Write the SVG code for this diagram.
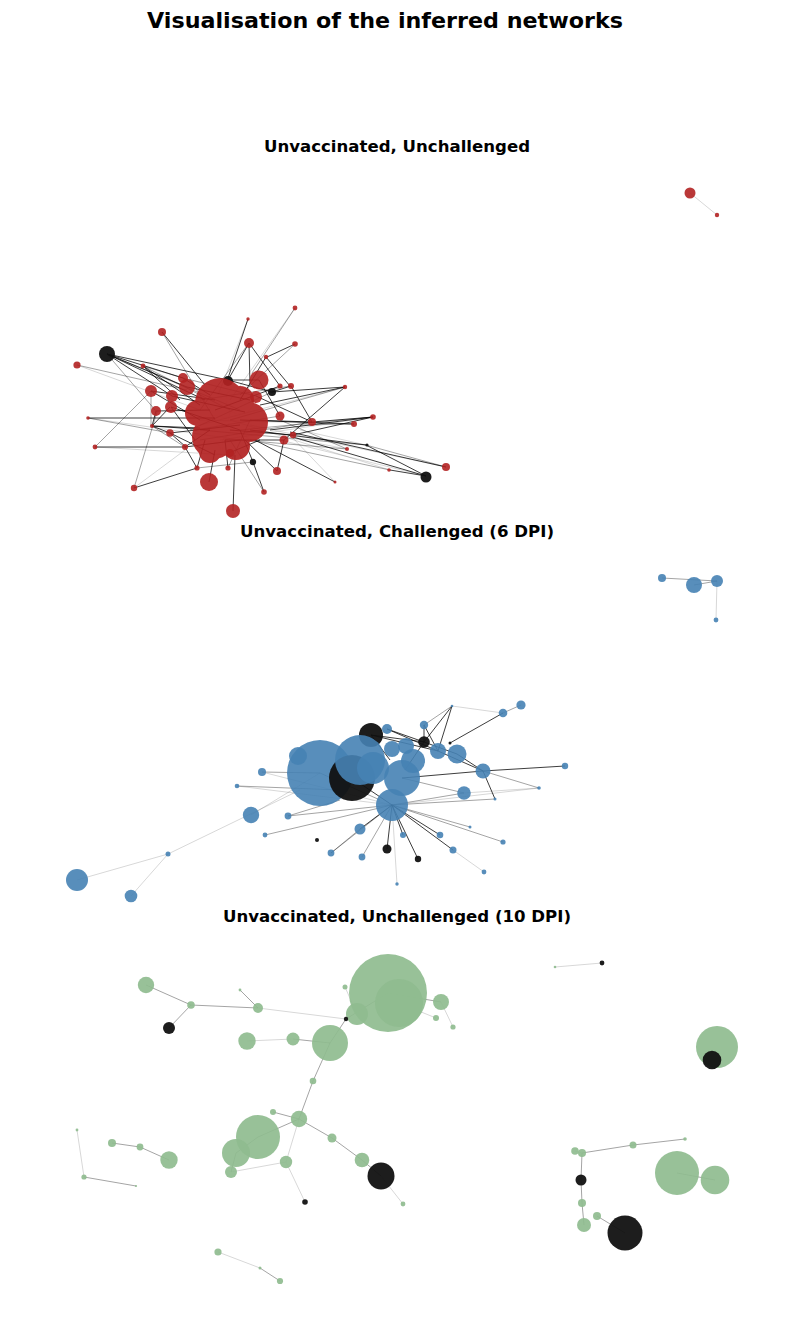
<svg xmlns="http://www.w3.org/2000/svg" width="794" height="1325" viewBox="0 0 794 1325">
<style>
.t{font-family:"DejaVu Sans","Liberation Sans",sans-serif;font-weight:bold;text-anchor:middle;fill:#000}
.r{fill:#B22222;fill-opacity:0.9}
.b{fill:#4682B4;fill-opacity:0.9}
.g{fill:#8FBC8F;fill-opacity:0.92}
.k{fill:#111;fill-opacity:0.95}
.e1{stroke:#000;stroke-opacity:0.85;stroke-width:0.9;fill:none}
.e2{stroke:#000;stroke-opacity:0.45;stroke-width:0.8;fill:none}
.e3{stroke:#000;stroke-opacity:0.2;stroke-width:0.8;fill:none}
</style>
<rect width="794" height="1325" fill="#fff"/>
<text class="t" x="385" y="28" font-size="21.5" textLength="476" lengthAdjust="spacingAndGlyphs">Visualisation of the inferred networks</text>
<text class="t" x="397" y="152" font-size="16.5" textLength="266" lengthAdjust="spacingAndGlyphs">Unvaccinated, Unchallenged</text>
<text class="t" x="397" y="537" font-size="16.5" textLength="314" lengthAdjust="spacingAndGlyphs">Unvaccinated, Challenged (6 DPI)</text>
<text class="t" x="397" y="922" font-size="16.5" textLength="348" lengthAdjust="spacingAndGlyphs">Unvaccinated, Unchallenged (10 DPI)</text>

<g id="edges">
<path class="e3" d="M690,193L717,215"/>
<path class="e1" d="M107,354L187,387M107,354L205,400M107,354L228,380M107,354L172,396M88,418L215,418M95,447L185,447M134,488L197,468M162,332L205,385M249,343L250,385M266,357L290,386M266,357L240,400M280,386L215,410M291,386L312,422M345,387L260,405M373,417L270,430M373,417L293,435M354,424L240,420M312,422L250,420M293,435L230,430M284,440L277,471M284,440L225,440M253,462L240,430M253,462L264,492M228,468L225,440M197,468L205,440M233,511L235,455M209,482L215,450M170,433L240,425M152,426L210,430M156,411L210,410M151,391L215,400M183,378L210,395M143,366L200,405M143,366L180,400M228,380L259,380M228,380L272,392M259,380L280,416M272,392L345,387M256,396L312,422M426,476L390,470M426,476L366,445M426,476L293,437M446,467L290,432M366,445L250,430M277,471L245,440M335,482L255,440M185,447L240,440M170,433L152,426M295,344L267,357M248,319L228,378M228,380L249,343M291,386L272,392M280,386L249,343M152,426L170,407M186,447L170,433M197,468L185,447M229,453L260,440M156,411L152,426M171,407L240,430M187,387L250,400M172,396L245,412M284,440L345,387M312,422L373,417M107,354L183,378M152,426L200,428M171,407L195,440M170,433L215,455M185,447L210,430M151,391L200,420"/>
<path class="e2" d="M77,365L187,390M95,447L151,391M134,488L157,412M295,308L252,373M295,344L240,395M345,387L230,420M373,417L240,430M354,424L300,425M446,467L366,445M390,470L250,440M347,449L240,440M347,449L280,420M107,354L240,410M143,366L230,410M162,332L215,420M88,418L170,433M152,426L185,447M197,468L253,462M264,492L230,440M228,468L250,420M312,422L200,440M280,416L195,430M272,392L190,430M256,396L183,378M366,445L200,430M151,391L151,426M107,354L156,411M291,386L200,400M249,343L200,410M143,366L183,378"/>
<path class="e3" d="M248,319L218,395M295,308L230,400M446,467L250,425M390,470L230,420M426,476L280,440M373,417L220,440M345,387L200,425M335,482L290,435M77,365L200,410M134,488L185,450M366,445L300,430M354,424L200,420M347,449L300,440M88,418L240,440M95,447L230,455"/>

<path class="e2" d="M662,578L717,581M694,585L717,581"/>
<path class="e3" d="M717,581L716,620"/>
<path class="e1" d="M387,729L424,742M424,725L424,742M452,706L424,742M503,713L450,743M424,742L457,754M371,735L424,742M371,735L438,751M387,729L438,751M457,754L483,771M483,771L565,766M483,771L495,799M392,805L360,829M392,805L418,859M392,805L453,850M392,805L440,835M392,805L387,849M392,805L403,835M352,778L392,805M402,778L483,771M438,751L483,771M424,725L438,751M452,706L438,751M371,735L390,760M424,742L405,770"/>
<path class="e2" d="M503,713L521,705M392,805L470,827M392,805L503,842M392,805L495,799M392,805L288,816M392,805L265,835M360,829L331,853M392,805L362,857M262,772L320,773M237,786L340,790M483,771L539,788M464,793L402,778M452,706L424,725M392,805L464,793M320,773L380,800M288,816L340,800M392,805L331,853"/>
<path class="e3" d="M452,706L503,713M453,850L484,872M392,805L397,884M392,805L539,788M320,773L251,815M168,854L300,790M77,880L168,854M131,896L168,854M262,772L392,805M237,786L392,805M464,793L539,788"/>

<path class="e2" d="M146,985L191,1005M169,1028L191,1005M191,1005L258,1008M240,990L258,1008M346,1019L330,1043M293,1039L330,1043M330,1043L313,1081M313,1081L299,1119M273,1112L299,1119M299,1119L332,1138M332,1138L362,1160M362,1160L381,1176M388,993L441,1002M112,1143L140,1147M140,1147L169,1160M84,1177L136,1186M260,1268L280,1281M582,1153L633,1145M633,1145L685,1139M582,1153L581,1180M581,1180L582,1203M582,1203L584,1225M597,1216L625,1233M677,1173L715,1180M346,1019L388,993M299,1119L258,1137M258,1137L236,1153M236,1153L231,1172"/>
<path class="e3" d="M258,1008L346,1019M247,1041L293,1039M345,987L357,1014M441,1002L453,1027M399,1003L436,1018M299,1119L286,1162M286,1162L231,1172M286,1162L305,1202M381,1176L403,1204M77,1130L84,1177M218,1252L260,1268M555,967L602,963M575,1151L582,1153"/>
</g>

<g id="n-red">
<g id="r1"><circle class="r" cx="690" cy="193" r="5.5"/></g>
<g id="r2"><circle class="r" cx="717" cy="215" r="2.2"/></g>
<g id="r3"><circle class="k" cx="107" cy="354" r="8"/></g>
<g id="r4"><circle class="r" cx="77" cy="365" r="3.6"/></g>
<g id="r5"><circle class="r" cx="162" cy="332" r="4"/></g>
<g id="r6"><circle class="r" cx="248" cy="319" r="1.7"/></g>
<g id="r7"><circle class="r" cx="295" cy="308" r="2.4"/></g>
<g id="r8"><circle class="r" cx="249" cy="343" r="5"/></g>
<g id="r9"><circle class="r" cx="295" cy="344" r="2.8"/></g>
<g id="r10"><circle class="r" cx="266" cy="357" r="2.2"/></g>
<g id="r11"><circle class="r" cx="143" cy="366" r="2.4"/></g>
<g id="r12"><circle class="r" cx="183" cy="378" r="5"/></g>
<g id="r13"><circle class="r" cx="187" cy="387" r="8"/></g>
<g id="r14"><circle class="r" cx="151" cy="391" r="6"/></g>
<g id="r15"><circle class="r" cx="172" cy="396" r="6"/></g>
<g id="r16"><circle class="r" cx="171" cy="407" r="6"/></g>
<g id="r17"><circle class="r" cx="156" cy="411" r="5"/></g>
<g id="r18"><circle class="r" cx="88" cy="418" r="1.8"/></g>
<g id="r19"><circle class="r" cx="152" cy="426" r="2"/></g>
<g id="r20"><circle class="r" cx="170" cy="433" r="3.8"/></g>
<g id="r21"><circle class="r" cx="95" cy="447" r="2.4"/></g>
<g id="r22"><circle class="r" cx="185" cy="447" r="3"/></g>
<g id="r23"><circle class="r" cx="197" cy="468" r="2.6"/></g>
<g id="r24"><circle class="r" cx="209" cy="482" r="9"/></g>
<g id="r25"><circle class="r" cx="233" cy="511" r="7"/></g>
<g id="r26"><circle class="r" cx="134" cy="488" r="3.2"/></g>
<g id="r27"><circle class="k" cx="228" cy="381" r="5"/></g>
<g id="r28"><circle class="r" cx="259" cy="380" r="9.5"/></g>
<g id="r29"><circle class="r" cx="256" cy="397" r="6"/></g>
<g id="r30"><circle class="k" cx="272" cy="392" r="4"/></g>
<g id="r31"><circle class="r" cx="280" cy="386" r="2.6"/></g>
<g id="r32"><circle class="r" cx="291" cy="386" r="3"/></g>
<g id="r33"><circle class="r" cx="280" cy="416" r="4.5"/></g>
<g id="r34"><circle class="r" cx="312" cy="422" r="4"/></g>
<g id="r35"><circle class="r" cx="345" cy="387" r="2.2"/></g>
<g id="r36"><circle class="r" cx="373" cy="417" r="2.8"/></g>
<g id="r37"><circle class="r" cx="354" cy="424" r="3"/></g>
<g id="r38"><circle class="r" cx="293" cy="435" r="3.2"/></g>
<g id="r39"><circle class="r" cx="284" cy="440" r="4.5"/></g>
<g id="r40"><circle class="r" cx="347" cy="449" r="2"/></g>
<g id="r41"><circle class="k" cx="367" cy="445" r="1.6"/></g>
<g id="r42"><circle class="k" cx="253" cy="462" r="3.2"/></g>
<g id="r43"><circle class="r" cx="277" cy="471" r="4"/></g>
<g id="r44"><circle class="r" cx="264" cy="492" r="2.8"/></g>
<g id="r45"><circle class="r" cx="335" cy="482" r="1.5"/></g>
<g id="r46"><circle class="r" cx="389" cy="470" r="1.8"/></g>
<g id="r47"><circle class="k" cx="426" cy="477" r="5.5"/></g>
<g id="r48"><circle class="r" cx="446" cy="467" r="4"/></g>
<g id="r49"><circle class="r" cx="228" cy="468" r="2.6"/></g>
<g id="r50"><circle class="r" cx="230" cy="453" r="4"/></g>
<g id="hub" fill="#B22222" opacity="0.92">
<g id="r51"><circle cx="220" cy="403" r="25"/></g>
<g id="r52"><circle cx="198" cy="413" r="13"/></g>
<g id="r53"><circle cx="214" cy="437" r="22"/></g>
<g id="r54"><circle cx="248" cy="422" r="20"/></g>
<g id="r55"><circle cx="236" cy="446" r="14"/></g>
<g id="r56"><circle cx="210" cy="452" r="11"/></g>
<g id="r57"><circle cx="240" cy="400" r="14"/></g>
</g>
</g>

<g id="n-blue">
<g id="b1"><circle class="b" cx="662" cy="578" r="4"/></g>
<g id="b2"><circle class="b" cx="694" cy="585" r="8"/></g>
<g id="b3"><circle class="b" cx="717" cy="581" r="6"/></g>
<g id="b4"><circle class="b" cx="716" cy="620" r="2.4"/></g>
<g id="b5"><circle class="b" cx="320" cy="773" r="33"/></g>
<g id="b6"><circle class="b" cx="298" cy="756" r="9"/></g>
<g id="b7"><circle class="k" cx="371" cy="735" r="12"/></g>
<g id="b8"><circle class="k" cx="352" cy="778" r="23"/></g>
<g id="b9"><circle class="b" cx="360" cy="760" r="25"/></g>
<g id="b10"><circle class="b" cx="387" cy="729" r="5"/></g>
<g id="b11"><circle class="b" cx="424" cy="725" r="4.2"/></g>
<g id="b12"><circle class="k" cx="424" cy="742" r="5.8"/></g>
<g id="b13"><circle class="b" cx="402" cy="778" r="18"/></g>
<g id="b14"><circle class="b" cx="373" cy="768" r="16"/></g>
<g id="b15"><circle class="b" cx="392" cy="749" r="8"/></g>
<g id="b16"><circle class="b" cx="406" cy="746" r="8"/></g>
<g id="b17"><circle class="b" cx="413" cy="761" r="12"/></g>
<g id="b18"><circle class="b" cx="438" cy="751" r="8"/></g>
<g id="b19"><circle class="b" cx="457" cy="754" r="9.5"/></g>
<g id="b20"><circle class="b" cx="483" cy="771" r="7.5"/></g>
<g id="b21"><circle class="b" cx="464" cy="793" r="6.8"/></g>
<g id="b22"><circle class="b" cx="392" cy="805" r="16"/></g>
<g id="b23"><circle class="b" cx="503" cy="713" r="4.3"/></g>
<g id="b24"><circle class="b" cx="521" cy="705" r="4.6"/></g>
<g id="b25"><circle class="b" cx="452" cy="706" r="1.3"/></g>
<g id="b26"><circle class="b" cx="565" cy="766" r="3.2"/></g>
<g id="b27"><circle class="b" cx="539" cy="788" r="1.8"/></g>
<g id="b28"><circle class="b" cx="495" cy="799" r="1.5"/></g>
<g id="b29"><circle class="b" cx="470" cy="827" r="1.5"/></g>
<g id="b30"><circle class="b" cx="503" cy="842" r="2.6"/></g>
<g id="b31"><circle class="b" cx="484" cy="872" r="2.4"/></g>
<g id="b32"><circle class="b" cx="453" cy="850" r="3.5"/></g>
<g id="b33"><circle class="b" cx="440" cy="835" r="3.3"/></g>
<g id="b34"><circle class="k" cx="418" cy="859" r="3.2"/></g>
<g id="b35"><circle class="b" cx="403" cy="835" r="3"/></g>
<g id="b36"><circle class="k" cx="387" cy="849" r="4.5"/></g>
<g id="b37"><circle class="b" cx="397" cy="884" r="1.7"/></g>
<g id="b38"><circle class="k" cx="450" cy="743" r="1.5"/></g>
<g id="b39"><circle class="b" cx="262" cy="772" r="4"/></g>
<g id="b40"><circle class="b" cx="237" cy="786" r="2.3"/></g>
<g id="b41"><circle class="b" cx="251" cy="815" r="8.2"/></g>
<g id="b42"><circle class="b" cx="288" cy="816" r="3.4"/></g>
<g id="b43"><circle class="b" cx="265" cy="835" r="2.4"/></g>
<g id="b44"><circle class="k" cx="317" cy="840" r="2"/></g>
<g id="b45"><circle class="b" cx="360" cy="829" r="5.5"/></g>
<g id="b46"><circle class="b" cx="331" cy="853" r="3.4"/></g>
<g id="b47"><circle class="b" cx="362" cy="857" r="3.4"/></g>
<g id="b48"><circle class="b" cx="168" cy="854" r="2.5"/></g>
<g id="b49"><circle class="b" cx="77" cy="880" r="11"/></g>
<g id="b50"><circle class="b" cx="131" cy="896" r="6.3"/></g>
</g>

<g id="n-green">
<g id="g1"><circle class="g" cx="388" cy="993" r="39"/></g>
<g id="g2"><circle class="g" cx="399" cy="1003" r="24"/></g>
<g id="g3"><circle class="g" cx="357" cy="1014" r="11"/></g>
<g id="g4"><circle class="g" cx="441" cy="1002" r="8"/></g>
<g id="g5"><circle class="g" cx="436" cy="1018" r="3"/></g>
<g id="g6"><circle class="g" cx="453" cy="1027" r="2.6"/></g>
<g id="g7"><circle class="g" cx="345" cy="987" r="2.5"/></g>
<g id="g8"><circle class="k" cx="346" cy="1019" r="2.2"/></g>
<g id="g9"><circle class="g" cx="146" cy="985" r="8.2"/></g>
<g id="g10"><circle class="g" cx="191" cy="1005" r="3.8"/></g>
<g id="g11"><circle class="k" cx="169" cy="1028" r="6"/></g>
<g id="g12"><circle class="g" cx="240" cy="990" r="1.4"/></g>
<g id="g13"><circle class="g" cx="258" cy="1008" r="5"/></g>
<g id="g14"><circle class="g" cx="247" cy="1041" r="8.7"/></g>
<g id="g15"><circle class="g" cx="293" cy="1039" r="6.5"/></g>
<g id="g16"><circle class="g" cx="330" cy="1043" r="18"/></g>
<g id="g17"><circle class="g" cx="313" cy="1081" r="3.3"/></g>
<g id="g18"><circle class="g" cx="273" cy="1112" r="3"/></g>
<g id="g19"><circle class="g" cx="299" cy="1119" r="8.2"/></g>
<g id="g20"><circle class="g" cx="258" cy="1137" r="22"/></g>
<g id="g21"><circle class="g" cx="236" cy="1153" r="14"/></g>
<g id="g22"><circle class="g" cx="231" cy="1172" r="6"/></g>
<g id="g23"><circle class="g" cx="286" cy="1162" r="6.2"/></g>
<g id="g24"><circle class="g" cx="332" cy="1138" r="4.5"/></g>
<g id="g25"><circle class="g" cx="362" cy="1160" r="7.3"/></g>
<g id="g26"><circle class="k" cx="381" cy="1176" r="13.5"/></g>
<g id="g27"><circle class="g" cx="403" cy="1204" r="2.4"/></g>
<g id="g28"><circle class="k" cx="305" cy="1202" r="2.8"/></g>
<g id="g29"><circle class="g" cx="112" cy="1143" r="4"/></g>
<g id="g30"><circle class="g" cx="140" cy="1147" r="3.4"/></g>
<g id="g31"><circle class="g" cx="169" cy="1160" r="8.7"/></g>
<g id="g32"><circle class="g" cx="77" cy="1130" r="1.4"/></g>
<g id="g33"><circle class="g" cx="84" cy="1177" r="2.6"/></g>
<g id="g34"><circle class="g" cx="136" cy="1186" r="1.1"/></g>
<g id="g35"><circle class="g" cx="218" cy="1252" r="3.6"/></g>
<g id="g36"><circle class="g" cx="260" cy="1268" r="1.5"/></g>
<g id="g37"><circle class="g" cx="280" cy="1281" r="3.1"/></g>
<g id="g38"><circle class="g" cx="555" cy="967" r="1.3"/></g>
<g id="g39"><circle class="k" cx="602" cy="963" r="2.4"/></g>
<g id="g40"><circle class="g" cx="717" cy="1047" r="21"/></g>
<g id="g41"><circle class="k" cx="712" cy="1060" r="9.3"/></g>
<g id="g42"><circle class="g" cx="575" cy="1151" r="3.8"/></g>
<g id="g43"><circle class="g" cx="582" cy="1153" r="4"/></g>
<g id="g44"><circle class="g" cx="633" cy="1145" r="3.5"/></g>
<g id="g45"><circle class="g" cx="685" cy="1139" r="1.8"/></g>
<g id="g46"><circle class="k" cx="581" cy="1180" r="5.5"/></g>
<g id="g47"><circle class="g" cx="582" cy="1203" r="4"/></g>
<g id="g48"><circle class="g" cx="584" cy="1225" r="7"/></g>
<g id="g49"><circle class="g" cx="597" cy="1216" r="4"/></g>
<g id="g50"><circle class="k" cx="625" cy="1233" r="17.5"/></g>
<g id="g51"><circle class="g" cx="677" cy="1173" r="22"/></g>
<g id="g52"><circle class="g" cx="715" cy="1180" r="14.3"/></g>
</g>
</svg>
